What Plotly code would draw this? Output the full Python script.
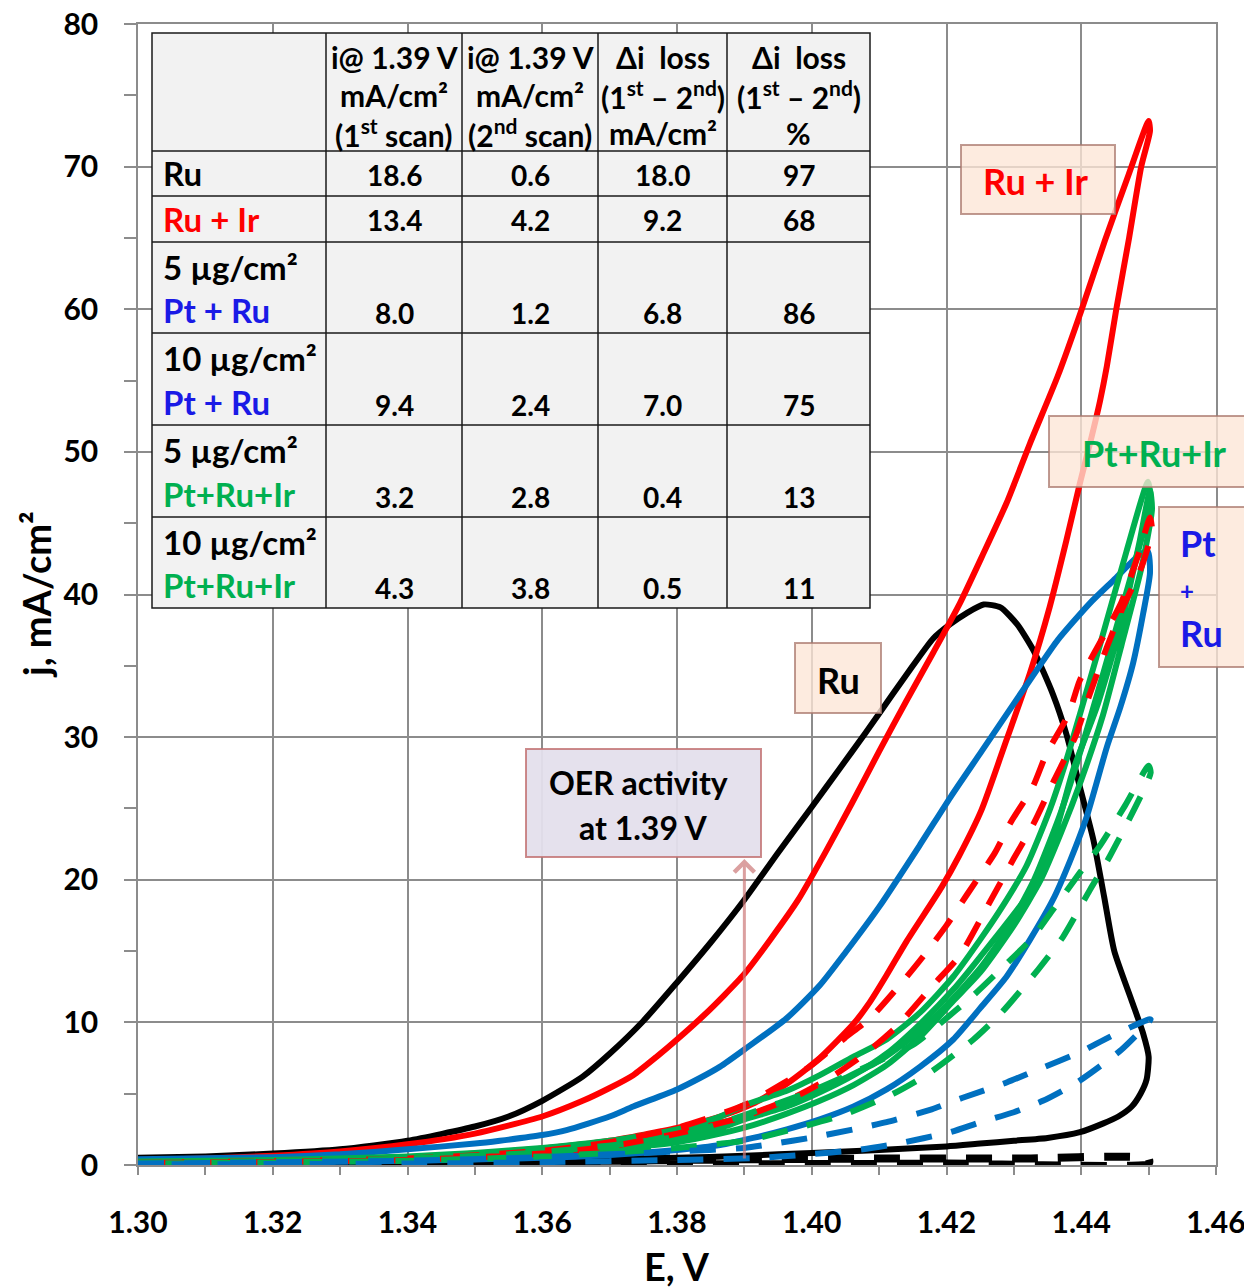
import plotly.graph_objects as go

# ---------------- data ----------------
# Ru, 1st scan (solid) forward / reverse
ru_1st_fwd_E = [1.300,1.310,1.320,1.330,1.340,1.350,1.355,1.360,1.366,1.370,1.375,1.380,1.385,1.390,1.395,1.400,1.404,1.408,1.412,1.415,1.418,1.4205,1.423,1.4255,1.428,1.4305,1.433,1.4358,1.4378,1.4398,1.4418,1.4434,1.4449,1.4475,1.4492,1.4500]
ru_1st_fwd_j = [0.5,0.6,0.8,1.1,1.7,2.7,3.4,4.5,6.2,7.8,10.1,12.8,15.6,18.6,21.9,25.1,27.7,30.3,33.0,35.0,36.9,37.9,38.7,39.3,39.1,37.9,36.0,33.0,30.2,26.5,22.8,18.8,15.0,11.5,9.2,7.6]
ru_1st_rev_E = [1.4497,1.4488,1.4475,1.4455,1.4432,1.4398,1.435,1.430,1.425,1.420,1.410,1.400,1.390,1.380,1.360,1.340,1.320,1.300]
ru_1st_rev_j = [6.0,5.0,4.1,3.4,2.9,2.3,1.9,1.7,1.5,1.3,1.05,0.85,0.65,0.5,0.4,0.35,0.3,0.3]
# Ru, 2nd scan (dashed)
ru_2nd_fwd_E = [1.300,1.340,1.370,1.390,1.410,1.430,1.450]
ru_2nd_fwd_j = [0.15,0.25,0.3,0.4,0.45,0.45,0.45]
ru_2nd_rev_E = [1.450,1.420,1.390,1.360,1.300]
ru_2nd_rev_j = [0.1,0.1,0.05,0.05,0.05]

# Ru + Ir
ruir_1st_fwd_E = [1.300,1.310,1.320,1.330,1.340,1.350,1.360,1.366,1.370,1.3735,1.377,1.380,1.384,1.387,1.390,1.394,1.398,1.402,1.406,1.410,1.414,1.418,1.422,1.4254,1.4289,1.4324,1.4365,1.440,1.4435,1.447,1.450]
ruir_1st_fwd_j = [0.35,0.45,0.65,0.95,1.45,2.2,3.4,4.5,5.4,6.3,7.6,8.8,10.5,11.9,13.4,15.9,18.6,21.9,25.4,29.0,32.5,35.9,39.4,42.8,46.4,50.6,55.3,59.9,64.8,69.4,73.2]
ruir_1st_rev_E = [1.4502,1.4489,1.4471,1.4452,1.4438,1.4428,1.4413,1.4398,1.4378,1.4353,1.4324,1.4289,1.4252,1.4219,1.4193,1.4141,1.4111,1.4086,1.4062,1.4012,1.3963,1.3913,1.3864,1.380,1.370,1.360,1.350,1.340,1.320,1.300]
ruir_1st_rev_j = [72.5,70.0,65.0,60.0,56.0,53.6,50.6,47.8,43.8,39.1,34.5,29.8,24.9,21.7,19.5,15.7,13.3,11.4,9.9,7.5,5.7,4.3,3.4,2.6,1.7,1.15,0.8,0.55,0.35,0.25]
ruir_2nd_fwd_E = [1.300,1.340,1.360,1.370,1.380,1.390,1.3953,1.3997,1.4049,1.4089,1.4134,1.4165,1.420,1.4231,1.4272,1.4295,1.4328,1.4348,1.4381,1.4398,1.4438,1.446,1.4487,1.4502]
ruir_2nd_fwd_j = [0.15,0.45,1.0,1.6,2.6,4.2,5.6,6.9,8.9,10.4,12.8,14.6,16.8,19.0,21.9,24.0,26.5,28.8,31.6,34.0,37.5,39.5,43.1,45.4]
ruir_2nd_rev_E = [1.4505,1.449,1.446,1.4438,1.4411,1.4391,1.436,1.433,1.430,1.4265,1.422,1.418,1.4126,1.4082,1.403,1.398,1.390,1.380,1.370,1.360,1.340,1.300]
ruir_2nd_rev_j = [44.5,42.0,38.9,36.3,32.8,30.0,27.0,24.0,21.5,18.5,14.7,12.6,9.7,7.9,6.2,4.9,3.4,2.2,1.3,0.8,0.35,0.15]

# Pt + Ru
ptru_1st_fwd_E = [1.300,1.320,1.330,1.340,1.350,1.3537,1.360,1.3636,1.370,1.3735,1.380,1.3834,1.3864,1.390,1.3963,1.4012,1.405,1.410,1.416,1.4206,1.4252,1.4305,1.4334,1.4365,1.4413,1.4448,1.4487,1.4499]
ptru_1st_fwd_j = [0.4,0.55,0.75,1.1,1.5,1.7,2.1,2.45,3.4,4.1,5.3,6.1,6.9,8.1,10.3,12.6,14.9,18.1,22.4,25.8,29.0,32.7,34.7,36.8,39.4,41.0,42.8,43.0]
ptru_1st_rev_E = [1.4502,1.4492,1.4477,1.4458,1.4438,1.4408,1.4384,1.4358,1.4324,1.4289,1.425,1.421,1.4161,1.4111,1.4062,1.4012,1.3963,1.3913,1.3864,1.380,1.370,1.360,1.340,1.320,1.300]
ptru_1st_rev_j = [41.5,38.7,35.2,32.1,29.3,24.4,21.4,18.6,15.8,13.2,11.0,8.8,6.9,5.3,4.1,3.2,2.5,1.9,1.4,1.05,0.7,0.5,0.3,0.2,0.2]
ptru_2nd_fwd_E = [1.300,1.340,1.360,1.370,1.380,1.390,1.3945,1.3997,1.4062,1.4111,1.4178,1.4223,1.429,1.4336,1.4398,1.4443,1.450]
ptru_2nd_fwd_j = [0.1,0.3,0.55,0.75,0.95,1.2,1.5,1.9,2.5,3.0,3.9,4.7,5.8,6.7,7.9,9.0,10.2]
ptru_2nd_rev_E = [1.4503,1.446,1.4394,1.4343,1.430,1.425,1.4205,1.4127,1.4067,1.3983,1.3923,1.380,1.360,1.340,1.300]
ptru_2nd_rev_j = [10.2,8.1,5.8,4.5,3.7,3.0,2.3,1.5,1.05,0.7,0.5,0.35,0.2,0.1,0.05]

# Pt + Ru + Ir, 5 and 10 ug/cm2
ptruir5_1st_fwd_E = [1.300,1.320,1.340,1.350,1.360,1.370,1.380,1.3864,1.390,1.3963,1.4012,1.4062,1.4111,1.4161,1.421,1.425,1.4329,1.4364,1.4388,1.4423,1.4458,1.4487,1.4502]
ptruir5_1st_fwd_j = [0.2,0.3,0.45,0.65,0.9,1.3,1.9,2.6,3.2,4.1,5.1,6.3,7.8,9.9,12.3,14.6,19.5,23.7,27.7,32.1,37.7,43.8,47.3]
ptruir5_1st_rev_E = [1.4505,1.449,1.446,1.4432,1.440,1.437,1.434,1.430,1.425,1.421,1.4161,1.4111,1.4062,1.4012,1.3963,1.3913,1.3864,1.380,1.370,1.360,1.340,1.320,1.300]
ptruir5_1st_rev_j = [46.0,42.0,36.5,31.5,27.0,23.3,20.0,16.8,13.5,11.5,9.0,7.0,5.6,4.5,3.6,2.8,2.2,1.6,1.1,0.75,0.4,0.25,0.15]
ptruir10_1st_fwd_E = [1.300,1.320,1.340,1.350,1.360,1.370,1.380,1.3864,1.390,1.3963,1.4012,1.4062,1.4111,1.4161,1.421,1.425,1.428,1.4319,1.4354,1.4378,1.4398,1.4428,1.4467,1.4499]
ptruir10_1st_fwd_j = [0.25,0.35,0.6,0.85,1.2,1.7,2.5,3.4,4.2,5.2,6.3,7.6,8.8,10.7,13.2,15.8,17.9,21.0,25.0,28.4,31.6,36.5,43.0,47.9]
ptruir10_1st_rev_E = [1.4503,1.4478,1.4445,1.4415,1.4395,1.4368,1.433,1.429,1.425,1.420,1.415,1.410,1.405,1.400,1.395,1.390,1.380,1.370,1.360,1.340,1.320,1.300]
ptruir10_1st_rev_j = [46.5,42.0,36.5,31.6,28.4,24.5,20.0,16.5,13.8,11.2,9.0,7.3,6.1,5.0,4.2,3.4,2.3,1.5,1.0,0.5,0.3,0.2]
ptruir_2nd_fwd_E = [1.300,1.340,1.360,1.380,1.390,1.400,1.410,1.4153,1.419,1.424,1.428,1.4327,1.4358,1.4398,1.4428,1.4465,1.4500]
ptruir_2nd_fwd_j = [0.15,0.45,0.9,2.0,3.5,5.2,7.3,8.5,9.9,11.9,13.7,15.9,17.9,20.5,22.4,25.2,28.0]
ptruir_2nd_rev_E = [1.4503,1.4443,1.4413,1.4373,1.4336,1.4282,1.424,1.4173,1.4121,1.4046,1.3987,1.3908,1.3864,1.380,1.370,1.360,1.340,1.300]
ptruir_2nd_rev_j = [27.5,21.7,19.3,16.0,13.7,10.7,8.8,6.4,5.0,3.5,2.7,1.75,1.5,1.2,0.85,0.6,0.3,0.1]

# table contents
table_header = [
    ["i@ 1.39 V", "mA/cm²", "(1<sup>st</sup> scan)"],
    ["i@ 1.39 V", "mA/cm²", "(2<sup>nd</sup> scan)"],
    ["Δi\u00a0 loss", "(1<sup>st</sup> – 2<sup>nd</sup>)", "mA/cm²"],
    ["Δi\u00a0 loss", "(1<sup>st</sup> – 2<sup>nd</sup>)", "%"],
]
row_loading = ["", "", "5 µg/cm²", "10 µg/cm²", "5 µg/cm²", "10 µg/cm²"]
row_catalyst = ["Ru", "Ru + Ir", "Pt + Ru", "Pt + Ru", "Pt+Ru+Ir", "Pt+Ru+Ir"]
i_1st_scan = [18.6, 13.4, 8.0, 9.4, 3.2, 4.3]
i_2nd_scan = [0.6, 4.2, 1.2, 2.4, 2.8, 3.8]
di_loss = [18.0, 9.2, 6.8, 7.0, 0.4, 0.5]
di_loss_pct = [97, 68, 86, 75, 13, 11]

x_ticks = [1.30, 1.32, 1.34, 1.36, 1.38, 1.40, 1.42, 1.44, 1.46]
y_ticks = [0, 10, 20, 30, 40, 50, 60, 70, 80]

# ---------------- styles ----------------
BLACK = "#000000"
RED = "#ff0000"
BLUE = "#0070c0"
GREEN = "#00b050"
TXT_BLUE = "#1a1ae6"
FONT = "Lato, 'Open Sans', sans-serif"

# the page body has an 8 px margin, so the figure is 8 px smaller and
# all reference pixel positions are measured relative to the plot area
OFF = 8
W, H = 1252 - OFF, 1288 - OFF
ML, MR, MT, MB = 138 - OFF, 36, 24 - OFF, 123
PX0, PY0 = 138, 1165          # reference pixel of plot-area bottom-left
PW, PH = W - ML - MR, H - MT - MB


def px(x):
    return (x - PX0) / PW


def py(y):
    return (PY0 - y) / PH


fig = go.Figure()


def add_loop(fE, fj, rE, rj, color, dash=None, width=6):
    fig.add_trace(go.Scatter(
        x=fE + rE, y=fj + rj, mode="lines",
        line=dict(color=color, width=width, dash=dash, shape="spline", smoothing=0.6),
        showlegend=False, hoverinfo="skip"))


DASH = "26px,20px"
add_loop(ru_2nd_fwd_E, ru_2nd_fwd_j, ru_2nd_rev_E, ru_2nd_rev_j, BLACK, DASH, 8)
add_loop(ru_1st_fwd_E, ru_1st_fwd_j, ru_1st_rev_E, ru_1st_rev_j, BLACK)
add_loop(ruir_1st_fwd_E, ruir_1st_fwd_j, ruir_1st_rev_E, ruir_1st_rev_j, RED)
add_loop(ptru_1st_fwd_E, ptru_1st_fwd_j, ptru_1st_rev_E, ptru_1st_rev_j, BLUE)
add_loop(ptruir5_1st_fwd_E, ptruir5_1st_fwd_j, ptruir5_1st_rev_E, ptruir5_1st_rev_j, GREEN)
add_loop(ptruir10_1st_fwd_E, ptruir10_1st_fwd_j, ptruir10_1st_rev_E, ptruir10_1st_rev_j, GREEN)
add_loop(ruir_2nd_fwd_E, ruir_2nd_fwd_j, ruir_2nd_rev_E, ruir_2nd_rev_j, RED, DASH)
add_loop(ptruir_2nd_fwd_E, ptruir_2nd_fwd_j, ptruir_2nd_rev_E, ptruir_2nd_rev_j, GREEN, DASH)
add_loop(ptru_2nd_fwd_E, ptru_2nd_fwd_j, ptru_2nd_rev_E, ptru_2nd_rev_j, BLUE, DASH)

shapes = []
annos = []

# ---------------- table ----------------
col_x = [152, 326, 462, 598, 727, 870]
row_y = [33, 151, 196, 242, 333, 425, 517, 608]
shapes.append(dict(type="rect", xref="paper", yref="paper", layer="above",
                   x0=px(col_x[0]), x1=px(col_x[-1]), y0=py(row_y[-1]), y1=py(row_y[0]),
                   fillcolor="#f2f2f2", line=dict(color="#1a1a1a", width=1.5)))
for cx in col_x[1:-1]:
    shapes.append(dict(type="line", xref="paper", yref="paper", layer="above",
                       x0=px(cx), x1=px(cx), y0=py(row_y[-1]), y1=py(row_y[0]),
                       line=dict(color="#1a1a1a", width=1.5)))
for ry in row_y[1:-1]:
    shapes.append(dict(type="line", xref="paper", yref="paper", layer="above",
                       x0=px(col_x[0]), x1=px(col_x[-1]), y0=py(ry), y1=py(ry),
                       line=dict(color="#1a1a1a", width=1.5)))

HSIZE, VSIZE, NSIZE = 30, 28, 33
hdr_y = [57, 95, 133]
for ci, lines in enumerate(table_header):
    cxm = (col_x[ci + 1] + col_x[ci + 2]) / 2
    for li, t in enumerate(lines):
        annos.append(dict(x=px(cxm), y=py(hdr_y[li]), xref="paper", yref="paper",
                          text=t, showarrow=False, xanchor="center", yanchor="middle",
                          font=dict(family=FONT, size=HSIZE, color="black", weight=700)))

cat_colors = [BLACK, RED, TXT_BLUE, TXT_BLUE, GREEN, GREEN]
for ri in range(6):
    top, bot = row_y[ri + 1], row_y[ri + 2]
    two = row_loading[ri] != ""
    name_y = bot - 23 if two else (top + bot) / 2
    val_y = bot - 20 if two else (top + bot) / 2 + 1
    if two:
        annos.append(dict(x=px(161), y=py(top + 25), xref="paper", yref="paper",
                          text=row_loading[ri], showarrow=False, xanchor="left", yanchor="middle",
                          font=dict(family=FONT, size=NSIZE, color="black", weight=700)))
    annos.append(dict(x=px(161), y=py(name_y), xref="paper", yref="paper",
                      text=row_catalyst[ri], showarrow=False, xanchor="left", yanchor="middle",
                      font=dict(family=FONT, size=NSIZE, color=cat_colors[ri], weight=700)))
    vals = [f"{i_1st_scan[ri]:.1f}", f"{i_2nd_scan[ri]:.1f}", f"{di_loss[ri]:.1f}", f"{di_loss_pct[ri]:d}"]
    for ci, v in enumerate(vals):
        cxm = (col_x[ci + 1] + col_x[ci + 2]) / 2
        annos.append(dict(x=px(cxm), y=py(val_y), xref="paper", yref="paper",
                          text=v, showarrow=False, xanchor="center", yanchor="middle",
                          font=dict(family=FONT, size=VSIZE, color="black", weight=700)))

# ---------------- label boxes ----------------
PEACH = "rgba(252,230,214,0.78)"
PEACH_LINE = "rgba(170,120,110,0.75)"


def box(x0, y0, x1, y1, fill, line):
    shapes.append(dict(type="rect", xref="paper", yref="paper", layer="above",
                       x0=px(x0), x1=px(x1), y0=py(y1), y1=py(y0),
                       fillcolor=fill, line=dict(color=line, width=2)))


def label(x, y, text, color, size=36):
    annos.append(dict(x=px(x), y=py(y), xref="paper", yref="paper", text=text,
                      showarrow=False, xanchor="center", yanchor="middle",
                      font=dict(family=FONT, size=size, color=color, weight=700)))


box(961, 145, 1115, 214, PEACH, PEACH_LINE)
label(1036, 181, "Ru + Ir", RED)
box(1049, 416, 1251, 487, PEACH, PEACH_LINE)
label(1154, 453, "Pt+Ru+Ir", GREEN)
box(1159, 507, 1250, 667, PEACH, PEACH_LINE)
label(1198, 543, "Pt", TXT_BLUE)
label(1187, 590, "+", TXT_BLUE, 24)
label(1201, 633, "Ru", TXT_BLUE)
box(795, 643, 881, 713, PEACH, PEACH_LINE)
label(838, 680, "Ru", BLACK)
box(526, 749, 761, 857, "rgba(228,223,236,0.95)", "rgba(192,110,110,0.8)")
label(638, 782, "OER activity", BLACK, 32)
label(643, 827, "at 1.39 V", BLACK, 32)

# arrow from the axis up to the OER box
annos.append(dict(x=1.39, y=(PY0 - 859) / PH * 80, ax=1.39, ay=0.35,
                  xref="x", yref="y", axref="x", ayref="y", text="", showarrow=True,
                  arrowhead=4, arrowsize=1.3, arrowwidth=3,
                  arrowcolor="rgba(205,120,120,0.7)", standoff=0))

# axis titles
annos.append(dict(x=px(36), y=py(595), xref="paper", yref="paper", text="j, mA/cm²",
                  textangle=-90, showarrow=False, xanchor="center", yanchor="middle",
                  font=dict(family=FONT, size=38, color="black", weight=700)))
annos.append(dict(x=px(677), y=py(1266), xref="paper", yref="paper", text="E, V",
                  showarrow=False, xanchor="center", yanchor="middle",
                  font=dict(family=FONT, size=38, color="black", weight=700)))

GRID = "#8c8c8c"
fig.update_layout(
    width=W, height=H,
    margin=dict(l=ML, r=MR, t=MT, b=MB, autoexpand=False),
    paper_bgcolor="white", plot_bgcolor="white",
    font=dict(family=FONT, color="black"),
    shapes=shapes, annotations=annos, showlegend=False,
    xaxis=dict(range=[1.30, 1.46], tickvals=x_ticks, ticktext=[f"{v:.2f}" for v in x_ticks],
               showgrid=True, gridcolor=GRID, gridwidth=1.5,
               showline=True, linecolor=GRID, linewidth=1.5, mirror=True,
               ticks="outside", ticklen=8, tickcolor=GRID, tickwidth=1.5,
               minor=dict(dtick=0.01, tick0=1.30, ticks="outside", ticklen=8, tickcolor=GRID, showgrid=False),
               tickfont=dict(family=FONT, size=30, color="black", weight=700),
               ticklabelstandoff=22, ticklabeloverflow="allow", zeroline=False, fixedrange=True),
    yaxis=dict(range=[0, 80], tickvals=y_ticks,
               showgrid=True, gridcolor=GRID, gridwidth=1.5,
               showline=True, linecolor=GRID, linewidth=1.5, mirror=True,
               ticks="outside", ticklen=12, tickcolor=GRID, tickwidth=1.5,
               minor=dict(dtick=5, tick0=0, ticks="outside", ticklen=12, tickcolor=GRID, showgrid=False),
               tickfont=dict(family=FONT, size=30, color="black", weight=700),
               ticklabelstandoff=20, ticklabeloverflow="allow", zeroline=False, fixedrange=True),
)

fig.write_html("out.html")
